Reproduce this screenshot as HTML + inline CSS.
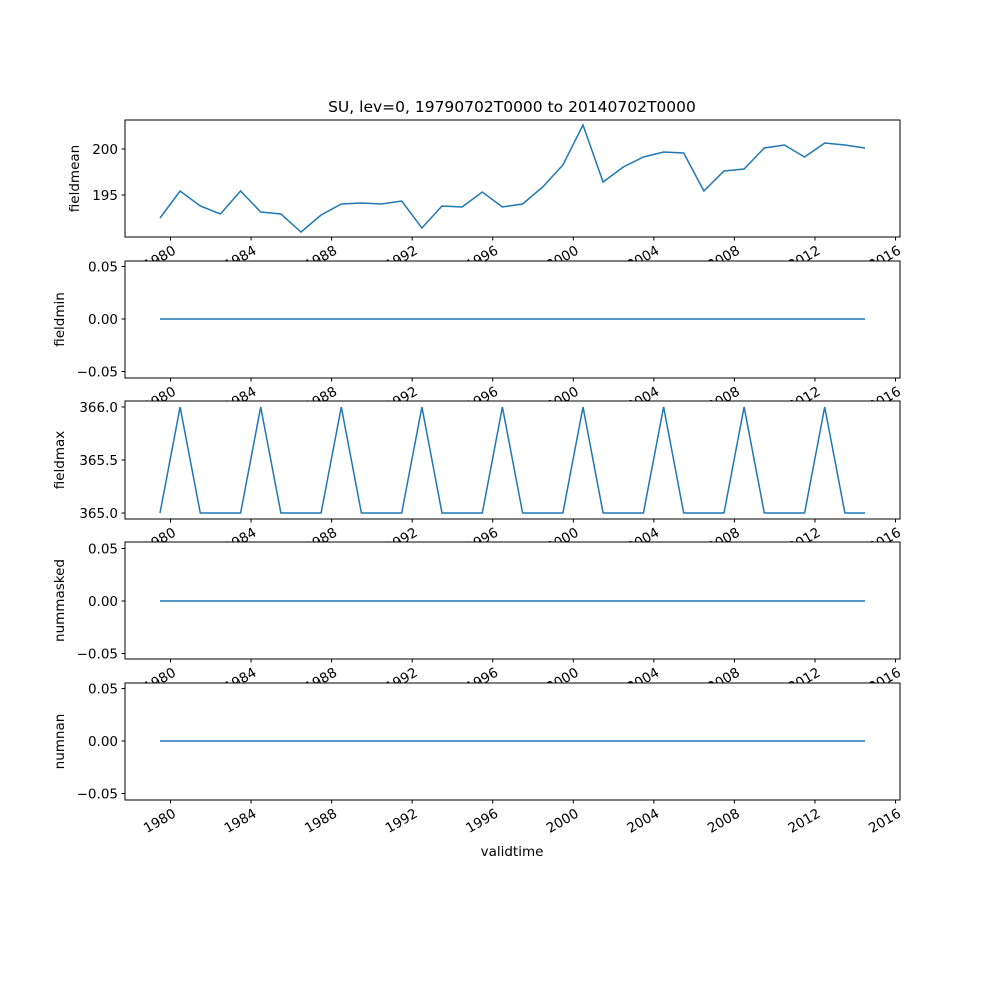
<!DOCTYPE html>
<html><head><meta charset="utf-8"><style>body{margin:0;background:#fff}svg{display:block}text{font-family:"DejaVu Sans","Liberation Sans",sans-serif;fill:#000}</style></head>
<body>
<svg id="s" width="1000" height="1000" xmlns="http://www.w3.org/2000/svg"></svg>
<script>
const s=document.getElementById('s');let h='';
const L=125,R=900;
const X=i=>160+i*705/35;
const TX=y=>170.5+(y-1980)*20.14;
const panels=[
 {t:120,b:237,name:'fieldmean'},
 {t:261,b:378,name:'fieldmin'},
 {t:401,b:519,name:'fieldmax'},
 {t:542,b:659,name:'nummasked'},
 {t:683,b:800,name:'numnan'}];
const fm=[218,191,206,214,191,212,214,232,215,204,203,204,201,228,206,207,192,207,204,187,165,125,182,167,157,152,153,191,171,169,148,145,157,143,145,148];
panels.forEach((p,k)=>{
 h+=`<rect x="${L}" y="${p.t}" width="${R-L}" height="${p.b-p.t}" fill="#fff" stroke="#000" stroke-width="1"/>`;
 let pts=[];
 for(let i=0;i<36;i++){let y;
  if(k==0)y=fm[i];else if(k==2)y=(i%4==1)?407:513;else y=[0,319,0,601,741][k];
  pts.push(X(i).toFixed(1)+','+y);}
 h+=`<polyline points="${pts.join(' ')}" fill="none" stroke="#1f77b4" stroke-width="1.5"/>`;
 let yt;
 if(k==0)yt=[[149,'200'],[195,'195']];
 else if(k==2)yt=[[407,'366.0'],[460,'365.5'],[513,'365.0']];
 else{const z=[0,319,0,601,741][k];yt=[[z-52.5,'0.05'],[z,'0.00'],[z+52.5,'−0.05']];}
 yt.forEach(([y,l])=>{h+=`<line x1="${L-3.5}" x2="${L}" y1="${y}" y2="${y}" stroke="#000"/><text x="${L-7}" y="${y+5}" font-size="13.5" text-anchor="end">${l}</text>`;});
 h+=`<text transform="translate(${k==0?79:64},${(p.t+p.b)/2}) rotate(-90)" font-size="13.5" text-anchor="middle">${p.name}</text>`;
 for(let yr=1980;yr<=2016;yr+=4){const x=TX(yr);
  h+=`<line x1="${x}" x2="${x}" y1="${p.b}" y2="${p.b+3.5}" stroke="#000"/><text transform="translate(${x+1},${p.b+7}) rotate(-30)" font-size="13.5" text-anchor="end" dy="0.78em">${yr}</text>`;}
});
h+=`<text x="512" y="112" font-size="15.5" text-anchor="middle">SU, lev=0, 19790702T0000 to 20140702T0000</text>`;
h+=`<text x="512" y="856" font-size="13.5" text-anchor="middle">validtime</text>`;
s.innerHTML=h;
</script>
</body></html>
